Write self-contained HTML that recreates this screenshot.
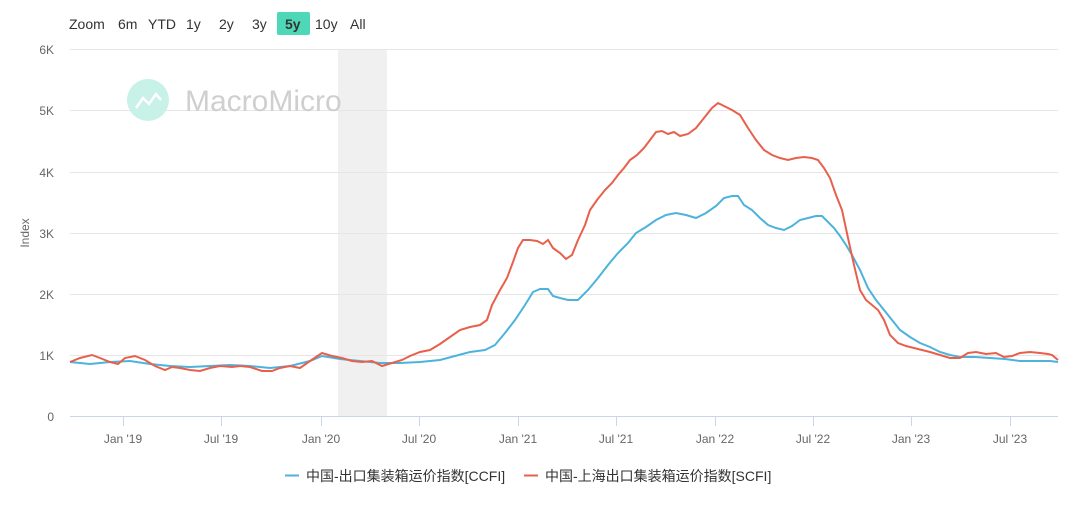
<!DOCTYPE html>
<html><head><meta charset="utf-8"><style>
body{margin:0;background:#fff;width:1080px;height:503px;overflow:hidden;font-family:"Liberation Sans","Noto Sans CJK SC",sans-serif}
</style></head><body>
<svg width="1080" height="503" xmlns="http://www.w3.org/2000/svg" font-family="Liberation Sans, Noto Sans CJK SC, sans-serif">
<g font-size="14" fill="#333">
<text x="69" y="29">Zoom</text>
<text x="118" y="29">6m</text>
<text x="148" y="29">YTD</text>
<text x="186" y="29">1y</text>
<text x="219" y="29">2y</text>
<text x="252" y="29">3y</text>
<rect x="277" y="12" width="33" height="23" rx="2" fill="#4fd8b8"/>
<text x="285" y="29" font-weight="bold">5y</text>
<text x="315" y="29">10y</text>
<text x="350" y="29">All</text>
</g>
<rect x="338" y="49" width="49" height="367" fill="#f0f0f0"/>
<g stroke="#e6e6e6" stroke-width="1">
<line x1="70" x2="1058" y1="49.5" y2="49.5"/>
<line x1="70" x2="1058" y1="110.5" y2="110.5"/>
<line x1="70" x2="1058" y1="172.5" y2="172.5"/>
<line x1="70" x2="1058" y1="233.5" y2="233.5"/>
<line x1="70" x2="1058" y1="294.5" y2="294.5"/>
<line x1="70" x2="1058" y1="355.5" y2="355.5"/>
</g>
<line x1="70" x2="1058" y1="416.5" y2="416.5" stroke="#ccd6eb"/>
<g stroke="#ccd6eb"><line x1="123.5" x2="123.5" y1="416" y2="426"/><line x1="221.5" x2="221.5" y1="416" y2="426"/><line x1="321.5" x2="321.5" y1="416" y2="426"/><line x1="419.5" x2="419.5" y1="416" y2="426"/><line x1="518.5" x2="518.5" y1="416" y2="426"/><line x1="616.5" x2="616.5" y1="416" y2="426"/><line x1="715.5" x2="715.5" y1="416" y2="426"/><line x1="813.5" x2="813.5" y1="416" y2="426"/><line x1="911.5" x2="911.5" y1="416" y2="426"/><line x1="1010.5" x2="1010.5" y1="416" y2="426"/></g>
<g font-size="12" fill="#666" text-anchor="end">
<text x="54" y="54">6K</text><text x="54" y="115">5K</text><text x="54" y="177">4K</text><text x="54" y="238">3K</text><text x="54" y="299">2K</text><text x="54" y="360">1K</text><text x="54" y="421">0</text>
</g>
<g font-size="12" fill="#666" text-anchor="middle">
<text x="123" y="443">Jan '19</text><text x="221" y="443">Jul '19</text><text x="321" y="443">Jan '20</text><text x="419" y="443">Jul '20</text><text x="518" y="443">Jan '21</text><text x="616" y="443">Jul '21</text><text x="715" y="443">Jan '22</text><text x="813" y="443">Jul '22</text><text x="911" y="443">Jan '23</text><text x="1010" y="443">Jul '23</text>
</g>
<text transform="translate(29,233) rotate(-90)" font-size="12" fill="#666" text-anchor="middle">Index</text>
<circle cx="148" cy="100" r="21" fill="#c8f1e7"/>
<polyline points="136,108 143,98 149,104 156,94 161,100" fill="none" stroke="#fff" stroke-width="2.5"/>
<text x="185" y="111" font-size="30" fill="#cfcfcf">MacroMicro</text>
<polyline fill="none" stroke="#4db3dc" stroke-width="2" points="70,362 90,364 110,362 130,361 150,364 170,366 190,367 210,366 230,365 250,366 270,368 290,366 310,361 322,356 340,359 360,361 380,363 400,363 420,362 440,360 455,356 470,352 485,350 495,345 505,333 515,320 525,305 533,292 540,289 548,289 553,296 560,298 568,300 578,300 588,290 598,278 608,265 618,253 628,243 636,233 646,227 656,220 666,215 676,213 686,215 696,218 706,213 716,206 724,198 732,196 738,196 744,205 752,210 760,218 768,225 776,228 784,230 792,226 800,220 808,218 816,216 822,216 828,222 834,228 840,236 846,245 852,255 860,270 868,288 876,300 884,310 892,320 900,330 910,337 920,343 930,347 940,352 950,355 960,357 975,357 990,358 1005,359 1020,361 1035,361 1050,361 1058,362"/>
<polyline fill="none" stroke="#e8604c" stroke-width="2" points="70,362 80,358 92,355 100,358 110,362 118,364 125,358 135,356 145,360 155,366 165,370 172,367 180,368 190,370 200,371 210,368 220,366 232,367 240,366 250,367 262,371 272,371 280,368 290,366 300,368 310,361 322,353 332,356 342,358 352,361 362,362 372,361 382,366 392,363 402,360 410,356 420,352 430,350 440,344 450,337 460,330 470,327 480,325 487,320 492,305 500,290 507,278 513,262 518,248 523,240 530,240 537,241 543,244 548,240 553,248 560,253 566,259 572,255 578,240 585,225 590,210 597,200 605,190 612,183 618,175 624,168 630,160 637,155 644,148 650,140 656,132 662,131 668,134 674,132 680,136 688,134 696,128 704,118 712,108 718,103 724,106 732,110 740,115 748,128 756,140 764,150 772,155 780,158 788,160 796,158 804,157 812,158 818,160 824,168 830,178 836,195 842,210 848,238 854,265 860,290 866,300 872,305 878,310 884,320 890,335 898,343 906,346 914,348 922,350 930,352 940,355 950,358 960,358 968,353 976,352 986,354 996,353 1004,357 1012,356 1020,353 1030,352 1040,353 1048,354 1052,355 1058,360"/>
<line x1="285" x2="299" y1="475.5" y2="475.5" stroke="#4db3dc" stroke-width="2"/>
<text x="306" y="481" font-size="14" fill="#333">中国-出口集装箱运价指数[CCFI]</text>
<line x1="524" x2="538" y1="475.5" y2="475.5" stroke="#e8604c" stroke-width="2"/>
<text x="545" y="481" font-size="14" fill="#333">中国-上海出口集装箱运价指数[SCFI]</text>
</svg>
</body></html>
